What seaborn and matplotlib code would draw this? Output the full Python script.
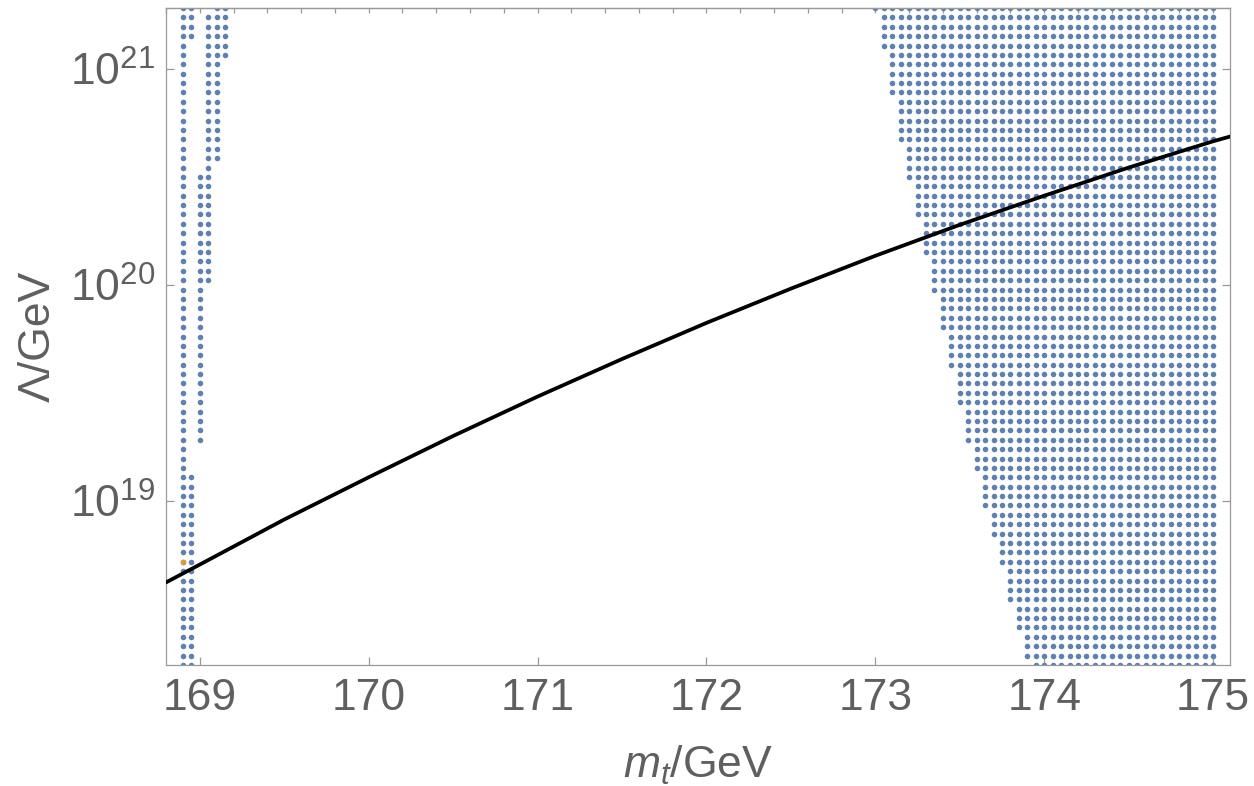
import numpy as np
import pandas as pd
import matplotlib
matplotlib.use("Agg")
import matplotlib.pyplot as plt
import seaborn as sns
from matplotlib.ticker import FixedLocator, MultipleLocator, NullLocator, FixedFormatter

# ---------------- data ----------------
# scan grid: m_t step 0.05 GeV, ln(Lambda/GeV) step 0.1, ln range 42..49
MT_STEP = 0.05
LN_STEP = 0.1
LN_MIN, LN_MAX = 42.0, 49.0

# left cluster: one vertical run of points per entry
left_col_mt = [168.90, 168.95, 168.95, 169.00, 169.05, 169.10, 169.15]
left_col_ln_top = [49.0, 49.0, 44.0, 47.2, 48.9, 49.0, 49.0]
left_col_ln_bottom = [42.0, 48.7, 42.0, 44.4, 46.1, 47.4, 48.5]

# right cluster: staircase left edge (band top in ln Lambda, first m_t of the band)
right_band_ln_top = [49.0, 48.9, 48.5, 48.0, 47.5, 47.1, 46.7, 46.3, 45.9, 45.5,
                     45.1, 44.7, 44.3, 44.0, 43.6, 43.3, 43.0, 42.6, 42.3, 42.0]
right_band_mt_start = [173.00, 173.05, 173.10, 173.15, 173.20, 173.25, 173.30, 173.35,
                       173.40, 173.45, 173.50, 173.55, 173.60, 173.65, 173.70, 173.75,
                       173.80, 173.85, 173.90, 173.95]
right_mt_end = 175.0

# black curve
curve_mt = [168.8, 169.0, 169.5, 170.0, 170.5, 171.0, 171.5, 172.0, 172.5,
            173.0, 173.5, 174.0, 174.5, 175.0, 175.1]
curve_lnL = [42.88, 43.07, 43.55, 44.00, 44.44, 44.86, 45.26, 45.645, 46.01,
             46.36, 46.69, 47.00, 47.30, 47.58, 47.63]

# highlighted (orange) point
marked_mt = [168.90]
marked_lnL = [43.1]

x_ticks = [169, 170, 171, 172, 173, 174, 175]
y_ticks = [1e19, 1e20, 1e21]
y_tick_labels = [r"$\mathregular{10^{19}}$", r"$\mathregular{10^{20}}$", r"$\mathregular{10^{21}}$"]

# ---------------- build point table ----------------
pts = []
for mt, top, bot in zip(left_col_mt, left_col_ln_top, left_col_ln_bottom):
    n = int(round((top - bot) / LN_STEP))
    for k in range(n + 1):
        pts.append((mt, round(top - k * LN_STEP, 1)))

n_rows = int(round((LN_MAX - LN_MIN) / LN_STEP))
for r in range(n_rows + 1):
    ln = round(LN_MAX - r * LN_STEP, 1)
    start = None
    for top, s in zip(right_band_ln_top, right_band_mt_start):
        if ln <= top + 1e-9:
            start = s
    ncol = int(round((right_mt_end - start) / MT_STEP))
    for c in range(ncol + 1):
        pts.append((round(start + c * MT_STEP, 2), ln))

dots = pd.DataFrame(pts, columns=["mt", "lnL"])
dots["Lambda"] = np.exp(dots["lnL"])
curve = pd.DataFrame({"mt": curve_mt, "Lambda": np.exp(curve_lnL)})
marked = pd.DataFrame({"mt": marked_mt, "Lambda": np.exp(marked_lnL)})

# ---------------- plot ----------------
sns.set_theme(style="ticks")
plt.rcParams["font.family"] = ["Liberation Sans", "DejaVu Sans"]
plt.rcParams["mathtext.fontset"] = "custom"
plt.rcParams["mathtext.rm"] = "Liberation Sans"
plt.rcParams["mathtext.it"] = "Liberation Sans:italic"

TXT = "#5f5f5f"
AXC = "#9a9a9a"

fig = plt.figure(figsize=(12.54, 7.86), dpi=100)
ax = fig.add_axes([166 / 1254, 1 - 665 / 786, (1230 - 166) / 1254, (665 - 8) / 786])

sns.scatterplot(data=dots, x="mt", y="Lambda", color="#5E81B5", s=16, linewidth=0,
                ax=ax, legend=False, zorder=2)
sns.lineplot(data=curve, x="mt", y="Lambda", color="black", linewidth=2.7, ax=ax,
             zorder=3, sort=True)
sns.scatterplot(data=marked, x="mt", y="Lambda", color="#E19C24", s=16, linewidth=0,
                ax=ax, legend=False, zorder=2.5)

ax.set_yscale("log")
ax.set_xlim(168.8, 175.1)
ax.set_ylim(np.exp(LN_MIN), np.exp(LN_MAX))

ax.xaxis.set_major_locator(FixedLocator(x_ticks))
ax.xaxis.set_minor_locator(NullLocator())
ax.yaxis.set_major_locator(FixedLocator(y_ticks))
ax.yaxis.set_major_formatter(FixedFormatter(y_tick_labels))
ax.yaxis.set_minor_locator(NullLocator())

ax.tick_params(axis="both", which="major", direction="in", length=5.5, width=0.9,
               color=AXC, labelcolor=TXT, labelsize=32)
ax.tick_params(axis="x", top=False, bottom=True, pad=9)
ax.tick_params(axis="y", left=True, right=True, pad=8)

secx = ax.secondary_xaxis("top")
secx.xaxis.set_major_locator(MultipleLocator(0.2))
secx.tick_params(direction="in", length=3.6, width=0.9, color=AXC, labeltop=False)
secx.spines["top"].set_color(AXC)
secx.spines["top"].set_linewidth(0.9)

for s in ax.spines.values():
    s.set_color(AXC)
    s.set_linewidth(0.9)

ax.set_xlabel(r"$m_t$/GeV", fontsize=32, color=TXT, labelpad=18)
ax.set_ylabel("Λ/GeV", fontsize=32, color=TXT, labelpad=8)

fig.savefig("out.png", dpi=100)
